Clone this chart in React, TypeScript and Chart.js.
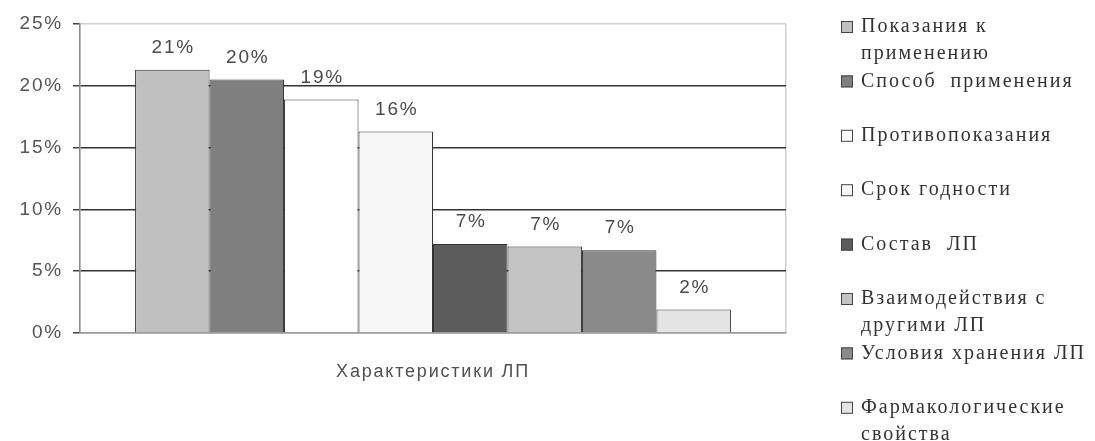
import React, { useEffect, useRef } from 'react';
import { Chart, registerables } from 'chart.js';

Chart.register(...registerables);

// ---- data ----
const categoryLabels = [''];
const axisTitle = 'Характеристики ЛП';
const seriesNames = [
  'Показания к применению',
  'Способ  применения',
  'Противопоказания',
  'Срок годности',
  'Состав  ЛП',
  'Взаимодействия с другими ЛП',
  'Условия хранения ЛП',
  'Фармакологические свойства',
];
const seriesValues = [21.3, 20.5, 18.9, 16.3, 7.2, 7.0, 6.7, 1.9];
const valueLabels = ['21%', '20%', '19%', '16%', '7%', '7%', '7%', '2%'];
const seriesColors = ['#c0c0c0', '#7f7f7f', '#ffffff', '#f7f7f7', '#5c5c5c', '#c3c3c3', '#8a8a8a', '#e4e4e4'];
const yMin = 0;
const yMax = 25;
const yStep = 5;

const SANS = '"Liberation Sans", Arial, sans-serif';
const SERIF = '"Liberation Serif", "Times New Roman", serif';
const SPACING = '1.8px';

const spacingPlugin = {
  id: 'spacing',
  beforeUpdate(chart: any) { chart.ctx.letterSpacing = SPACING; },
  beforeLayout(chart: any) { chart.ctx.letterSpacing = SPACING; },
  beforeDraw(chart: any) {
    const ctx = chart.ctx;
    ctx.save();
    ctx.fillStyle = '#ffffff';
    ctx.fillRect(0, 0, chart.width, chart.height);
    ctx.restore();
    ctx.letterSpacing = SPACING;
  },
};

const valueLabelPlugin = {
  id: 'valueLabels',
  afterDatasetsDraw(chart: any) {
    const ctx = chart.ctx;
    ctx.save();
    ctx.letterSpacing = SPACING;
    ctx.font = `19px ${SANS}`;
    ctx.fillStyle = '#4a4a4a';
    ctx.textAlign = 'center';
    ctx.textBaseline = 'middle';
    chart.data.datasets.forEach((ds: any, i: number) => {
      const meta = chart.getDatasetMeta(i);
      const el = meta.data[0];
      if (!el) return;
      ctx.fillText(valueLabels[i], el.x + 1, el.y - 22);
    });
    ctx.restore();
  },
};

const legendPlugin = {
  id: 'sideLegend',
  afterDraw(chart: any) {
    const ctx = chart.ctx;
    ctx.save();
    ctx.letterSpacing = '2px';
    ctx.font = `20px ${SERIF}`;
    ctx.textBaseline = 'middle';
    ctx.textAlign = 'left';
    const boxX = 841;
    const boxSize = 12;
    const textX = 861;
    const firstY = 27;
    const rowStep = 54.4;
    const lineGap = 27;
    const maxW = 236;
    chart.data.datasets.forEach((ds: any, i: number) => {
      const y = firstY + i * rowStep;
      ctx.fillStyle = ds.backgroundColor;
      ctx.fillRect(boxX, y - boxSize / 2, boxSize, boxSize);
      ctx.strokeStyle = '#444';
      ctx.lineWidth = 1;
      ctx.strokeRect(boxX + 0.5, y - boxSize / 2 + 0.5, boxSize - 1, boxSize - 1);
      const words = String(ds.label).split(' ');
      const lines: string[] = [];
      let cur = '';
      words.forEach((w) => {
        const t = cur === '' ? w : cur + ' ' + w;
        if (cur !== '' && w !== '' && ctx.measureText(t).width > maxW) {
          lines.push(cur);
          cur = w;
        } else {
          cur = t;
        }
      });
      if (cur) lines.push(cur);
      ctx.fillStyle = '#333';
      lines.forEach((ln, k) => ctx.fillText(ln, textX, y + k * lineGap));
    });
    ctx.restore();
  },
};

export default function App() {
  const canvasRef = useRef<HTMLCanvasElement | null>(null);

  useEffect(() => {
    const canvas = canvasRef.current;
    if (!canvas) return;
    const chart = new Chart(canvas, {
      type: 'bar',
      data: {
        labels: categoryLabels,
        datasets: seriesNames.map((name, i) => ({
          label: name,
          data: [seriesValues[i]],
          backgroundColor: seriesColors[i],
          borderColor: '#333333',
          borderWidth: 1,
          borderSkipped: 'start',
          categoryPercentage: 0.844,
          barPercentage: 1.0,
        })),
      },
      options: {
        responsive: false,
        animation: false,
        devicePixelRatio: 1,
        layout: { padding: { left: 0, top: 24, right: 309, bottom: 0 } },
        plugins: {
          legend: { display: false },
          tooltip: { enabled: false },
          title: { display: false },
        },
        scales: {
          x: {
            afterFit: (s: any) => { s.height = 108; },
            ticks: { display: false },
            grid: { display: true, color: '#cfcfcf', lineWidth: 1.5, drawTicks: false },
            border: { display: true, color: '#9a9a9a', width: 1.5 },
            title: {
              display: true,
              text: axisTitle,
              color: '#505050',
              font: { family: SANS, size: 18 },
              padding: { top: 0, bottom: 58 },
            },
          },
          y: {
            min: yMin,
            max: yMax,
            afterFit: (s: any) => { s.width = 80; },
            ticks: {
              stepSize: yStep,
              color: '#555555',
              font: { family: SANS, size: 19 },
              padding: 10,
              callback: (v: any) => `${v}%`,
            },
            grid: {
              color: (c: any) => (c.tick && c.tick.value === yMax ? '#cfcfcf' : c.tick && c.tick.value === yMin ? '#9a9a9a' : '#333333'),
              lineWidth: 1.5,
              tickLength: 7,
              tickColor: '#444444',
            },
            border: { display: true, color: '#8c8c8c', width: 1.5 },
          },
        },
      },
      plugins: [spacingPlugin, valueLabelPlugin, legendPlugin],
    } as any);
    return () => chart.destroy();
  }, []);

  return (
    <div style={{ position: 'absolute', left: 0, top: 0, width: 1095, height: 441, background: '#ffffff' }}>
      <canvas ref={canvasRef} width={1095} height={441} style={{ display: 'block' }} />
    </div>
  );
}
